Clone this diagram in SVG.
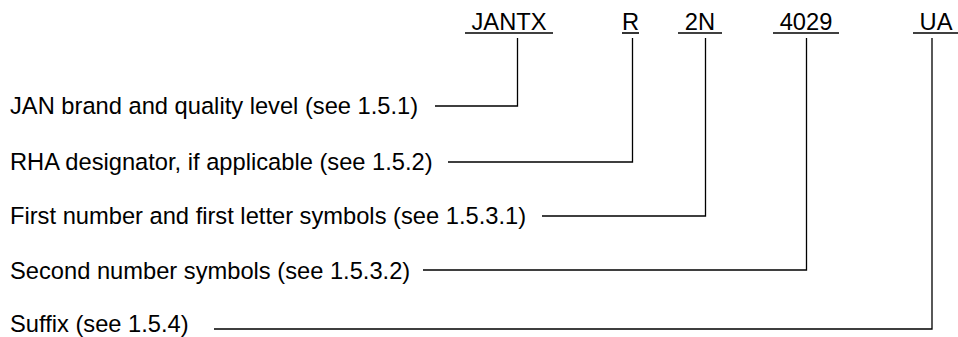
<svg xmlns="http://www.w3.org/2000/svg" width="958" height="337" viewBox="0 0 958 337">
<style>
text{font-family:"Liberation Sans",Arial,sans-serif;font-size:23.7px;fill:#000}
.u{stroke:#000;stroke-width:1.6;fill:none}
.c{stroke:#000;stroke-width:1.3;fill:none}
</style>
<rect width="958" height="337" fill="#fff"/>
<g id="part-jantx"><text x="509" y="29.5" text-anchor="middle">JANTX</text><line class="u" x1="465" y1="33" x2="553" y2="33"/></g>
<g id="part-r"><text x="630.5" y="29.5" text-anchor="middle">R</text><line class="u" x1="622" y1="33" x2="639" y2="33"/></g>
<g id="part-2n"><text x="700" y="29.5" text-anchor="middle">2N</text><line class="u" x1="678" y1="33" x2="722" y2="33"/></g>
<g id="part-4029"><text x="806" y="29.5" text-anchor="middle">4029</text><line class="u" x1="773" y1="33" x2="839" y2="33"/></g>
<g id="part-ua"><text x="936" y="29.5" text-anchor="middle">UA</text><line class="u" x1="913" y1="33" x2="958" y2="33"/></g>
<g id="label-jan"><text x="10" y="114">JAN brand and quality level (see 1.5.1)</text></g>
<g id="label-rha"><text x="10" y="170">RHA designator, if applicable (see 1.5.2)</text></g>
<g id="label-first"><text x="10" y="224">First number and first letter symbols (see 1.5.3.1)</text></g>
<g id="label-second"><text x="10" y="279">Second number symbols (see 1.5.3.2)</text></g>
<g id="label-suffix"><text x="10" y="331.5">Suffix (see 1.5.4)</text></g>
<g id="connectors">
<polyline class="c" points="435,106 517.5,106 517.5,38"/>
<polyline class="c" points="448,162 632.5,162 632.5,38"/>
<polyline class="c" points="542,216 705.5,216 705.5,38"/>
<polyline class="c" points="423,270 806.5,270 806.5,38"/>
<polyline class="c" points="214,329 932,329 932,38"/>
</g>
</svg>
